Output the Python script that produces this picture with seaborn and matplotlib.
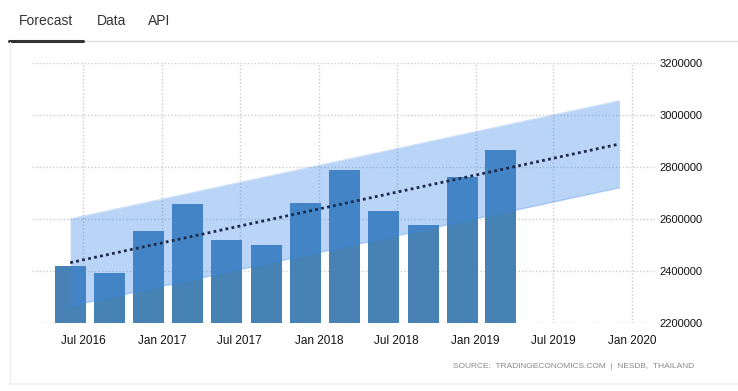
import seaborn as sns
import matplotlib.pyplot as plt
import matplotlib.dates as mdates
from matplotlib.lines import Line2D
import pandas as pd

# quarterly GDP (constant prices)
quarters = ['2016-06-01', '2016-09-01', '2016-12-01', '2017-03-01',
            '2017-06-01', '2017-09-01', '2017-12-01', '2018-03-01',
            '2018-06-01', '2018-09-01', '2018-12-01', '2019-03-01']
gdp = [2419000, 2392000, 2555000, 2659000, 2519000, 2500000,
       2663000, 2788000, 2631000, 2577000, 2761000, 2865000]

# forecast trend and band, start and end points
trend_dates = ['2016-06-01', '2019-12-01']
trend_vals = [2432000, 2888000]
band_upper = [2600000, 3054000]
band_lower = [2265000, 2720000]

tick_dates = ['2016-07-01', '2017-01-01', '2017-07-01', '2018-01-01',
              '2018-07-01', '2019-01-01', '2019-07-01', '2020-01-01']
tick_labels = ['Jul 2016', 'Jan 2017', 'Jul 2017', 'Jan 2018',
               'Jul 2018', 'Jan 2019', 'Jul 2019', 'Jan 2020']
y_ticks = [2200000, 2400000, 2600000, 2800000, 3000000, 3200000]

sns.set_style("white")
plt.rcParams['font.family'] = ['Liberation Sans', 'DejaVu Sans']

W, H = 738, 391


def fx(px):
    return px / W


def fy(py):
    return 1 - py / H


df = pd.DataFrame({'date': mdates.date2num(pd.to_datetime(quarters)), 'gdp': gdp})
tx = mdates.date2num(pd.to_datetime(trend_dates))

fig = plt.figure(figsize=(W / 100, H / 100), dpi=100)
ax = fig.add_axes([fx(32), fy(323), fx(655) - fx(32), fy(63) - fy(323)])

sns.barplot(data=df, x='date', y='gdp', native_scale=True, color='#4682b4',
            saturation=1, width=0.8, linewidth=0, ax=ax, zorder=2)
ax.fill_between(tx, band_lower, band_upper, color='#3d8ae8', alpha=0.36,
                linewidth=0, zorder=3)
# faint outline on the band edges (translucent so it blends over the bars)
ax.plot(tx, band_upper, color='#3d8ae8', alpha=0.25, lw=1, zorder=3)
ax.plot(tx, band_lower, color='#3d8ae8', alpha=0.2, lw=1, zorder=3)
ax.plot([tx[1], tx[1]], [band_lower[1], band_upper[1]], color='#3d8ae8',
        alpha=0.2, lw=0.8, zorder=3)
sns.lineplot(x=tx, y=trend_vals, ax=ax, color='#1c2a48', lw=2,
             linestyle=(0, (1, 1.2)), zorder=4)

ax.set_ylim(2200000, 3200000)
ax.set_xlim(mdates.date2num(pd.Timestamp('2016-03-04')),
            mdates.date2num(pd.Timestamp('2020-02-23')))
ax.set_xticks(mdates.date2num(pd.to_datetime(tick_dates)))
ax.set_xticklabels(tick_labels)
ax.set_yticks(y_ticks)
ax.set_yticklabels([str(v) for v in y_ticks])
ax.yaxis.tick_right()
ax.tick_params(axis='y', length=0, pad=3, labelsize=8, labelcolor='#111')
ax.tick_params(axis='x', length=4, color='#cccccc', pad=5, labelsize=8.5,
               labelcolor='#111')
ax.grid(True, color='#cccccc', linestyle=(0, (1, 1.5)), lw=1, zorder=0)
ax.set_axisbelow(True)
ax.set_xlabel('')
ax.set_ylabel('')
for s in ax.spines.values():
    s.set_visible(False)

# tabs and panel frame
fig.text(fx(19), fy(21), 'Forecast', fontsize=10, color='#333', va='center')
fig.text(fx(97), fy(21), 'Data', fontsize=10, color='#333', va='center')
fig.text(fx(148), fy(21), 'API', fontsize=10, color='#333', va='center')
fig.add_artist(Line2D([fx(83), 1], [fy(41), fy(41)], color='#dddddd', lw=1))
fig.add_artist(Line2D([fx(9), fx(83)], [fy(41), fy(41)], color='#333333', lw=2.2))
fig.add_artist(Line2D([fx(9.5), fx(9.5)], [fy(42), fy(384)], color='#eeeeee', lw=1))
fig.add_artist(Line2D([fx(9), 1], [fy(384), fy(384)], color='#eeeeee', lw=1.2))

fig.text(fx(694), fy(367), 'SOURCE:  TRADINGECONOMICS.COM  |  NESDB,  THAILAND',
         fontsize=6, color='#888888', ha='right', va='center')

fig.savefig('out.png', dpi=100)
